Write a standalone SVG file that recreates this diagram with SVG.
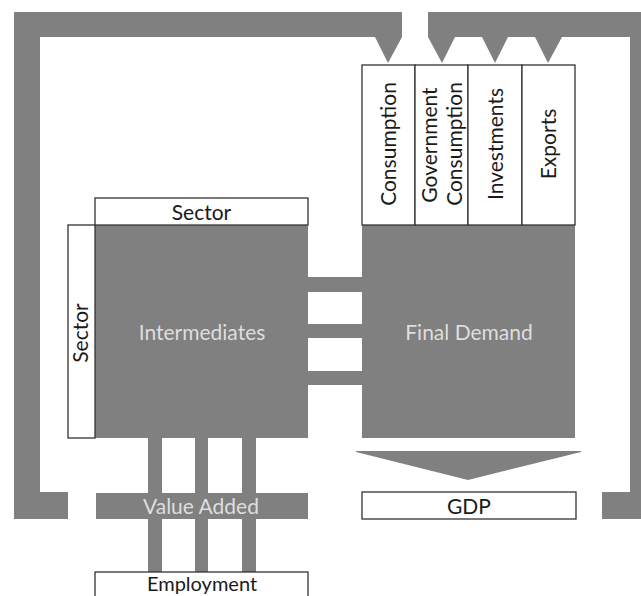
<svg xmlns="http://www.w3.org/2000/svg" width="641" height="596" viewBox="0 0 641 596">
<style>
.g{fill:#808080}
.box{fill:#fff;stroke:#333;stroke-width:1.3}
.t{font-family:Lato,"Open Sans","Liberation Sans",sans-serif;font-size:21px;fill:#1a1a1a;text-anchor:middle}
.lt{fill:#dedede}
</style>
<rect width="641" height="596" fill="#fff"/>
<g id="connectors">
  <path class="g" d="M14,12 H402 V37 L388,63 L375,37 H40 V492 H68 V519 H14 Z"/>
  <path class="g" d="M428,12 H656 V519 H602 V492 H630 V37 H562 L548,63 L535,37 H508 L495,63 L482,37 H455 L442,63 L428,37 Z"/>
  <rect class="g" x="306" y="277" width="58" height="15"/>
  <rect class="g" x="306" y="324" width="58" height="14"/>
  <rect class="g" x="306" y="371" width="58" height="14"/>
  <rect class="g" x="148" y="436" width="14" height="137"/>
  <rect class="g" x="195" y="436" width="13" height="137"/>
  <rect class="g" x="242" y="436" width="14" height="137"/>
  <polygon class="g" points="356,451 581,451 581,452 468,480 356,452"/>
</g>
<g id="intermediates">
  <rect class="g" x="95" y="225" width="213" height="213"/>
  <text class="t lt" x="202" y="340">Intermediates</text>
</g>
<g id="sector-top">
  <rect class="box" x="95" y="198" width="213" height="27"/>
  <text class="t" x="201.5" y="220">Sector</text>
</g>
<g id="sector-left">
  <rect class="box" x="68" y="225" width="27" height="213"/>
  <text class="t" transform="translate(88,333) rotate(-90)">Sector</text>
</g>
<g id="final-demand">
  <rect class="g" x="362" y="225" width="213" height="213"/>
  <text class="t lt" x="469" y="340">Final Demand</text>
</g>
<g id="consumption">
  <rect class="box" x="362" y="65" width="53" height="160"/>
  <text class="t" transform="translate(396,144) rotate(-90)">Consumption</text>
</g>
<g id="government-consumption">
  <rect class="box" x="415" y="65" width="53" height="160"/>
  <text class="t" transform="translate(437,145) rotate(-90)">Government</text>
  <text class="t" transform="translate(462,144) rotate(-90)">Consumption</text>
</g>
<g id="investments">
  <rect class="box" x="468" y="65" width="54" height="160"/>
  <text class="t" transform="translate(503,144) rotate(-90)">Investments</text>
</g>
<g id="exports">
  <rect class="box" x="522" y="65" width="53" height="160"/>
  <text class="t" transform="translate(556,144) rotate(-90)">Exports</text>
</g>
<g id="value-added">
  <rect class="g" x="96" y="493" width="212" height="26"/>
  <text class="t lt" x="201" y="514">Value Added</text>
</g>
<g id="gdp">
  <rect class="box" x="362" y="492" width="214" height="27"/>
  <text class="t" x="469" y="514">GDP</text>
</g>
<g id="employment">
  <rect class="box" x="95" y="572" width="213" height="40"/>
  <text class="t" x="202" y="591" style="font-size:20px">Employment</text>
</g>
</svg>
